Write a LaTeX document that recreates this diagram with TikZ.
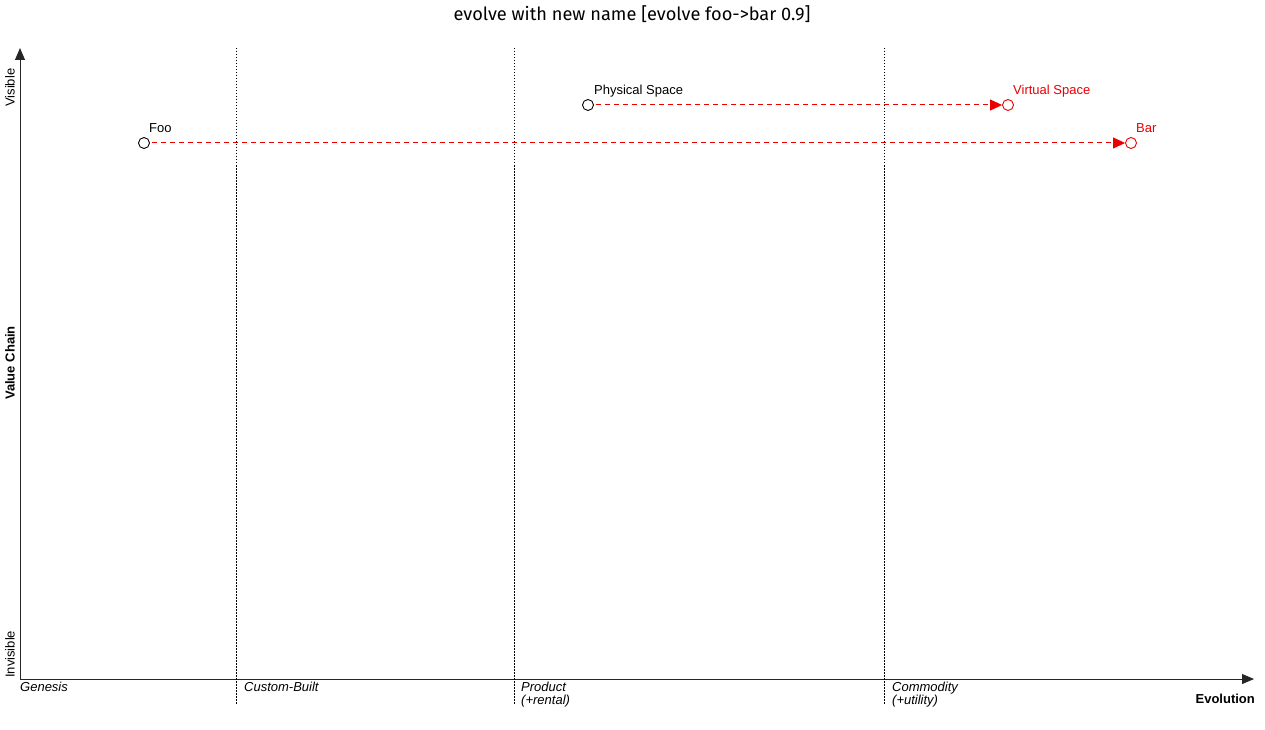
\documentclass[tikz,border=0pt]{standalone}
\usepackage{fontspec}
\setmainfont{Liberation Sans}
\newfontfamily\titlefont{Fira Sans}
\usetikzlibrary{arrows.meta,positioning}

\definecolor{evored}{RGB}{235,0,0}

\begin{document}
\begin{tikzpicture}[x=1pt,y=-1pt,
  axis/.style={draw=black!85,line width=1pt,-{Triangle[length=12pt,width=10pt]}},
  stage/.style={draw=black,line width=0.8pt,dash pattern=on 1.5pt off 1.5pt},
  comp/.style={circle,draw,line width=0.9pt,fill=white,inner sep=0pt,minimum size=11pt},
  evocomp/.style={comp,draw=evored},
  lbl/.style={font=\fontsize{13}{15}\selectfont,inner sep=0pt,anchor=base west},
  stagelbl/.style={font=\fontsize{13}{13}\selectfont\itshape,inner sep=0pt,anchor=north west,align=left},
  evoline/.style={line width=1pt,dash pattern=on 5pt off 4pt,shorten <=2pt,
    -{Triangle[length=12pt,width=11pt]}}]

\useasboundingbox (0,0) rectangle (1265,730);

% Título
\node[font=\titlefont\fontsize{18.2}{21}\selectfont] (title) at (632,14)
  {evolve with new name [evolve foo->bar 0.9]};

% Ejes
\coordinate (origin) at (20,679);
\coordinate (ytop) at (20,48);
\coordinate (xend) at (1254,679);
\draw[axis] (origin) -- (ytop);
\draw[axis] (origin) -- (xend);

% Etapas de evolución
\foreach \x in {236,514,884}
  \draw[stage] (\x,48) -- (\x,705);

% Etiquetas de los ejes
\node[font=\fontsize{13}{15}\selectfont\bfseries,rotate=90] (valuechain) at (10,363) {Value Chain};
\node[font=\fontsize{13}{15}\selectfont,rotate=90,anchor=west,inner sep=0pt] (visible) at (10,107) {Visible};
\node[font=\fontsize{13}{15}\selectfont,rotate=90,anchor=west,inner sep=0pt] (invisible) at (10,678) {Invisible};
\node[font=\fontsize{13}{15}\selectfont\bfseries,inner sep=0pt,anchor=base east] (evolution) at (1255,703) {Evolution};

\node[stagelbl] (genesis) at (20,682) {Genesis};
\node[stagelbl] (custom) at (244,682) {Custom-Built};
\node[stagelbl] (product) at (521,682) {Product\\(+rental)};
\node[stagelbl] (commodity) at (892,682) {Commodity\\(+utility)};

% Componentes
\node[comp] (foo) at (144,143) {};
\node[lbl] at (149,133) {Foo};
\node[comp] (physical) at (588,105) {};
\node[lbl] at (594,95) {Physical Space};

% Componentes evolucionados
\node[evocomp] (virtual) at (1008,105) {};
\node[lbl,text=evored] at (1013,95) {Virtual Space};
\node[evocomp] (bar) at (1131,143) {};
\node[lbl,text=evored] at (1136,133) {Bar};

% Evolución
\draw[evoline,evored] (foo) -- (bar);
\draw[evoline,evored] (physical) -- (virtual);
\end{tikzpicture}
\end{document}
